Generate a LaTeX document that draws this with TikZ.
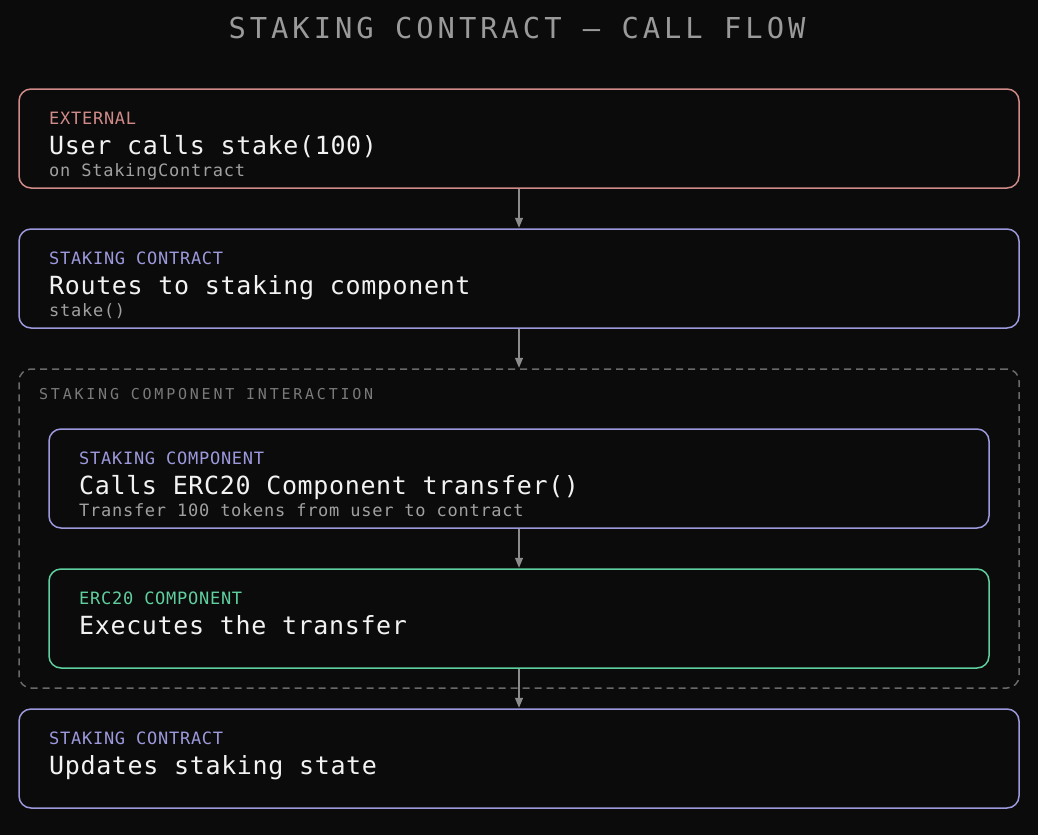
\documentclass[tikz,border=0pt]{standalone}
\usepackage{fontspec}
\usetikzlibrary{arrows.meta}
\newfontfamily\monofont{DejaVu Sans Mono}[LetterSpace=2.6]
\newfontfamily\smallmono{DejaVu Sans Mono}[LetterSpace=4.3]
\newfontfamily\titlemono{DejaVu Sans Mono}[LetterSpace=13.8]
\newfontfamily\groupmono{DejaVu Sans Mono}[LetterSpace=18.5]
\definecolor{bg}{HTML}{0B0B0B}
\definecolor{pinkc}{HTML}{D08A8A}
\definecolor{purplec}{HTML}{9C99DC}
\definecolor{greenc}{HTML}{5FCF9F}
\definecolor{titlec}{HTML}{9A9A9A}
\definecolor{subc}{HTML}{A0A0A0}
\definecolor{mainc}{HTML}{F2F2F2}
\definecolor{arrowc}{HTML}{8C8C8C}
\definecolor{dashc}{HTML}{6A6A6A}
\definecolor{grouplab}{HTML}{7A7A7A}
\tikzset{
  card/.style={draw, line width=1.5pt, rounded corners=12pt, fill=bg, inner sep=0pt, minimum height=99pt},
  wide/.style={minimum width=1000pt},
  narrow/.style={minimum width=940pt},
  grp/.style={draw=dashc, dash pattern=on 7pt off 5pt, line width=1.5pt, rounded corners=12pt, inner sep=0pt, minimum width=1000pt, minimum height=319pt},
  lab/.style={anchor=base west, inner sep=0pt, font=\smallmono\fontsize{17}{20}\selectfont},
  maintxt/.style={anchor=base west, inner sep=0pt, text=mainc, font=\monofont\fontsize{25}{30}\selectfont},
  subtxt/.style={anchor=base west, inner sep=0pt, text=subc, font=\smallmono\fontsize{17}{20}\selectfont},
  flow/.style={draw=arrowc, line width=1.2pt, -{Triangle[width=8pt,length=10pt]}, shorten >=0.5pt}
}
\begin{document}
\begin{tikzpicture}[x=1pt,y=-1pt]
\fill[bg] (0,0) rectangle (1038,835);
\useasboundingbox (0,0) rectangle (1038,835);
\node[anchor=base, inner sep=0pt, text=titlec, font=\titlemono\fontsize{28.8}{34}\selectfont] (title) at (517,38.5) {STAKING CONTRACT – CALL FLOW};

% group
\node[grp] (group) at (519,528.5) {};
\node[anchor=base west, inner sep=0pt, text=grouplab, font=\groupmono\fontsize{15}{18}\selectfont] (grouplabel) at (39,399) {STAKING COMPONENT INTERACTION};

% box 1
\node[card, wide, draw=pinkc] (b1) at (519,138.5) {};
\node[lab, text=pinkc] (b1l) at (49,124) {EXTERNAL};
\node[maintxt] (b1m) at (49,154) {User calls stake(100)};
\node[subtxt] (b1s) at (49,176) {on StakingContract};

% box 2
\node[card, wide, draw=purplec] (b2) at (519,278.5) {};
\node[lab, text=purplec] (b2l) at (49,264) {STAKING CONTRACT};
\node[maintxt] (b2m) at (49,294) {Routes to staking component};
\node[subtxt] (b2s) at (49,316) {stake()};

% box 3
\node[card, narrow, draw=purplec] (b3) at (519,478.5) {};
\node[lab, text=purplec] (b3l) at (79,464) {STAKING COMPONENT};
\node[maintxt] (b3m) at (79,494) {Calls ERC20 Component transfer()};
\node[subtxt] (b3s) at (79,516) {Transfer 100 tokens from user to contract};

% box 4
\node[card, narrow, draw=greenc] (b4) at (519,618.5) {};
\node[lab, text=greenc] (b4l) at (79,604) {ERC20 COMPONENT};
\node[maintxt] (b4m) at (79,634) {Executes the transfer};

% box 5
\node[card, wide, draw=purplec] (b5) at (519,758.5) {};
\node[lab, text=purplec] (b5l) at (49,744) {STAKING CONTRACT};
\node[maintxt] (b5m) at (49,774) {Updates staking state};

% arrows
\draw[flow] (b1.south) -- (b2.north);
\draw[flow] (b2.south) -- (group.north);
\draw[flow] (b3.south) -- (b4.north);
\draw[flow] (b4.south) -- (b5.north);
\end{tikzpicture}
\end{document}
